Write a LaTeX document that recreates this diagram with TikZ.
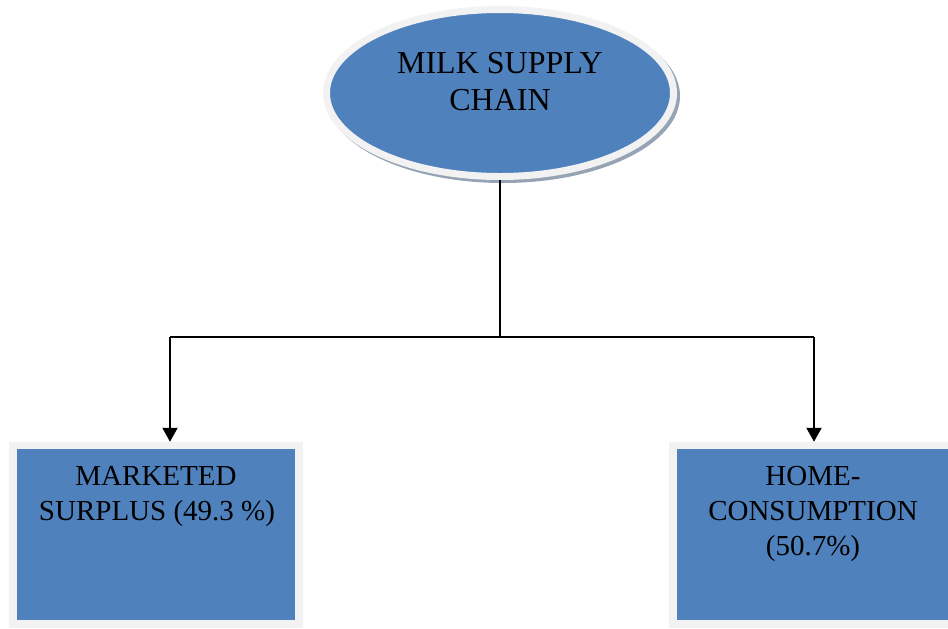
\documentclass[tikz,border=0pt]{standalone}
\usepackage{fontspec}
\setmainfont{Liberation Serif}
\usetikzlibrary{arrows.meta,shapes.geometric}
\definecolor{boxblue}{RGB}{79,129,189}
\definecolor{rimgrey}{RGB}{242,242,242}
\definecolor{shadowgrey}{RGB}{150,163,180}
\tikzset{
  rim/.style={draw=rimgrey, fill=boxblue, inner sep=0pt},
  shadowshape/.style={fill=shadowgrey, draw=none, inner sep=0pt},
  bigtxt/.style={font=\fontsize{16}{18.5}\selectfont, anchor=base, inner sep=0pt},
  boxtxt/.style={font=\fontsize{14.5}{17.5}\selectfont, anchor=base, inner sep=0pt},
  conn/.style={line width=1pt, draw=black},
  arr/.style={conn, -{Triangle[length=7pt,width=7.5pt]}}
}
\begin{document}
\begin{tikzpicture}[x=0.5pt, y=-0.5pt]
\useasboundingbox (0,0) rectangle (948,628);
\clip (0,0) rectangle (948,628);
% shadows
\node[shadowshape, ellipse, minimum width=177pt, minimum height=87pt] (mssh) at (503,96) {};
\node[shadowshape, rectangle, minimum width=143pt, minimum height=89.25pt] (mlsh) at (158,537) {};
\node[shadowshape, rectangle, minimum width=143pt, minimum height=89.25pt] (hcsh) at (818,537) {};
% shapes
\node[rim, ellipse, line width=3.5pt, minimum width=173.5pt, minimum height=83.5pt] (ms) at (500,93) {};
\node[rim, rectangle, line width=3.75pt, minimum width=143pt, minimum height=89.25pt] (ml) at (156,534.75) {};
\node[rim, rectangle, line width=3.75pt, minimum width=143pt, minimum height=89.25pt] (hc) at (816,534.75) {};
% texts
\node[bigtxt] (t1) at (500,73) {MILK SUPPLY};
\node[bigtxt] (t2) at (500,110) {CHAIN};
\node[boxtxt] (l1) at (156,485) {MARKETED};
\node[boxtxt] (l2) at (157,520) {SURPLUS (49.3 \%)};
\node[boxtxt] (r1) at (813,485) {HOME-};
\node[boxtxt] (r2) at (813,520) {CONSUMPTION};
\node[boxtxt] (r3) at (813,555) {(50.7\%)};
% connectors
\coordinate (j) at (500,337);
\coordinate (jl) at (170,337);
\coordinate (jr) at (814,337);
\draw[conn] (ms.south) -- (j);
\draw[conn] (jl) -- (jr);
\draw[arr] (jl) -- (jl |- ml.north);
\draw[arr] (jr) -- (jr |- hc.north);
\end{tikzpicture}
\end{document}
